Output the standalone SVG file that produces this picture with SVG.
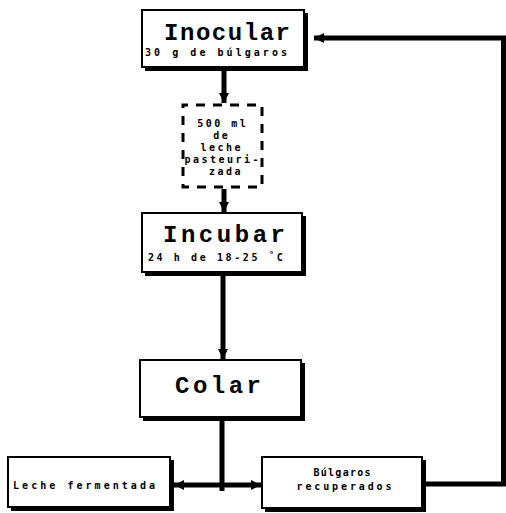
<svg xmlns="http://www.w3.org/2000/svg" width="506" height="513" viewBox="0 0 506 513">
<defs>
<style>
.box{fill:#fff;stroke:#000;stroke-width:2}
.sh{fill:none;stroke:#000;stroke-width:4}
.title{font-family:"Liberation Mono","DejaVu Sans Mono",monospace;font-weight:bold;font-size:24px;fill:#000}
.sub{font-family:"DejaVu Sans Mono","Liberation Mono",monospace;font-weight:bold;font-size:10px;fill:#000}
.ln{fill:none;stroke:#000;stroke-width:5}
</style>
<marker id="ah" viewBox="0 0 10 10" refX="10" refY="5" markerWidth="2.2" markerHeight="2" orient="auto-start-reverse" markerUnits="strokeWidth">
<path d="M0,0 L10,5 L0,10 z" fill="#000"/>
</marker>
</defs>
<rect width="506" height="513" fill="#fff"/>
<g id="connectors">
<path class="ln" d="M506,38 H314" marker-end="url(#ah)"/>
<path class="ln" d="M224,70 V103" marker-end="url(#ah)"/>
<path class="ln" d="M224,189 V212" marker-end="url(#ah)"/>
<path class="ln" d="M223,276 V359" marker-end="url(#ah)"/>
<path class="ln" d="M222,420 V491"/>
<path class="ln" d="M222,485 H174" marker-end="url(#ah)"/>
<path class="ln" d="M222,485 H261" marker-end="url(#ah)"/>
<path class="ln" d="M425,484 H503.5 V36"/>
</g>
<g id="inocular">
<rect class="box" x="142" y="10" width="162" height="57"/>
<path class="sh" d="M306,13 V69 H145"/>
<text class="title" x="227" y="40" text-anchor="middle" textLength="126" lengthAdjust="spacing">Inocular</text>
<text class="sub" x="216" y="56" text-anchor="middle" textLength="142" lengthAdjust="spacing">30 g de búlgaros</text>
</g>
<g id="leche">
<path d="M183,105 H262 V187 H183 Z" fill="none" stroke="#000" stroke-width="3" stroke-dasharray="9,8" stroke-dashoffset="4"/>
<text class="sub" text-anchor="middle" letter-spacing="2.5">
<tspan x="227" y="127">500 ml</tspan>
<tspan x="226" y="139">de</tspan>
<tspan x="226" y="151">leche</tspan>
<tspan x="227" y="163">pasteuri-</tspan>
<tspan x="226" y="175">zada</tspan>
</text>
</g>
<g id="incubar">
<rect class="box" x="142" y="213" width="160" height="59"/>
<path class="sh" d="M304,216 V274 H145"/>
<text class="title" x="224" y="242" text-anchor="middle" textLength="122" lengthAdjust="spacing">Incubar</text>
<text class="sub" x="148" y="261" letter-spacing="2.6">24 h de 18-25 <tspan dy="-3" font-size="9">°</tspan><tspan dy="3">C</tspan></text>
</g>
<g id="colar">
<rect class="box" x="140" y="360" width="161" height="57"/>
<path class="sh" d="M303,363 V419 H143"/>
<text class="title" x="218" y="393" text-anchor="middle" textLength="86" lengthAdjust="spacing">Colar</text>
</g>
<g id="fermentada">
<rect class="box" x="8" y="457" width="162" height="50"/>
<path class="sh" d="M172,460 V509 H11"/>
<text class="sub" x="84" y="489" text-anchor="middle" textLength="142" lengthAdjust="spacing">Leche fermentada</text>
</g>
<g id="recuperados">
<rect class="box" x="262" y="457" width="160" height="51"/>
<path class="sh" d="M424,460 V510 H265"/>
<text class="sub" x="342" y="476" text-anchor="middle" textLength="57" lengthAdjust="spacing">Búlgaros</text>
<text class="sub" x="344" y="490" text-anchor="middle" textLength="95" lengthAdjust="spacing">recuperados</text>
</g>
</svg>
